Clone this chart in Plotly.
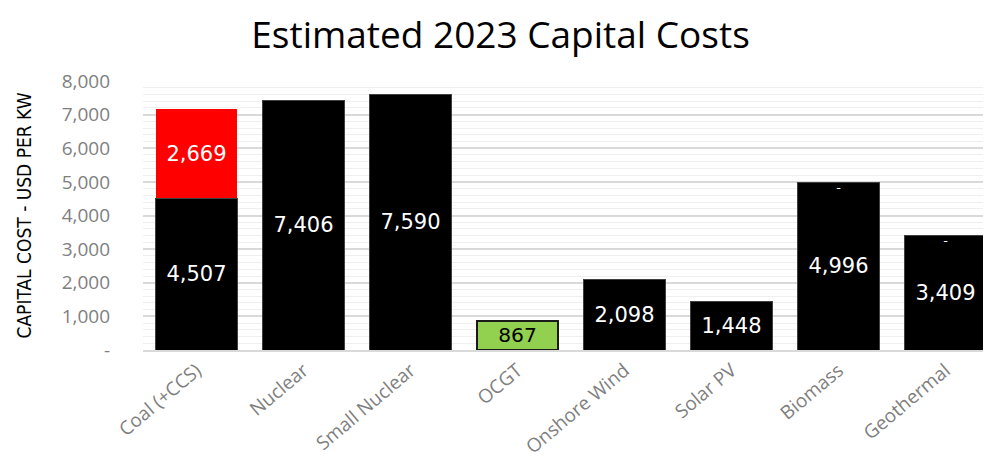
import plotly.graph_objects as go

categories = ["Coal (+CCS)", "Nuclear", "Small Nuclear", "OCGT", "Onshore Wind", "Solar PV", "Biomass", "Geothermal"]
base_costs = [4507, 7406, 7590, 867, 2098, 1448, 4996, 3409]
ccs_addon = [2669, 0, 0, 0, 0, 0, 0, 0]
addon_labels = ["2,669", "", "", "", "", "", "-", "-"]
base_colors = ["#000000", "#000000", "#000000", "#92D050", "#000000", "#000000", "#000000", "#000000"]
base_text_colors = ["white", "white", "white", "black", "white", "white", "white", "white"]
y_ticks = [0, 1000, 2000, 3000, 4000, 5000, 6000, 7000, 8000]
y_tick_labels = ["-", "1,000", "2,000", "3,000", "4,000", "5,000", "6,000", "7,000", "8,000"]

fig = go.Figure()
fig.add_trace(go.Bar(
    x=categories, y=base_costs,
    marker=dict(color=base_colors,
                line=dict(color=["#404040" if c == "#000000" else "#1a1a1a" for c in base_colors],
                          width=[1, 1, 1, 2, 1, 1, 1, 1])),
    text=[f"{v:,}" for v in base_costs], textposition="inside", insidetextanchor="middle",
    textfont=dict(family="DejaVu Sans", size=21, color=base_text_colors),
    textangle=0, cliponaxis=False, showlegend=False,
))
fig.add_trace(go.Bar(
    x=categories, y=ccs_addon,
    marker=dict(color="#FF0000", line=dict(width=0)),
    text=[addon_labels[0]] + [""] * 7, textposition="inside", insidetextanchor="middle",
    textfont=dict(family="DejaVu Sans", size=21, color="white"),
    textangle=0, showlegend=False,
))
# zero-value labels for the add-on series
totals = [b + a for b, a in zip(base_costs, ccs_addon)]
dash_x = [c for c, l in zip(categories, addon_labels) if l == "-"]
dash_y = [t for t, l in zip(totals, addon_labels) if l == "-"]
fig.add_trace(go.Scatter(
    x=dash_x, y=dash_y, mode="text", text=["-"] * len(dash_x),
    textposition="bottom center", textfont=dict(family="DejaVu Sans", size=13, color="white"),
    showlegend=False, hoverinfo="skip",
))

fig.update_layout(
    width=991, height=462,
    margin=dict(l=135, r=0, t=73, b=120),
    paper_bgcolor="white", plot_bgcolor="white",
    barmode="stack", bargap=0.24,
    title=dict(text="Estimated 2023 Capital Costs", x=0.497, xanchor="center", y=0.942, yanchor="middle",
               font=dict(family="Open Sans", size=37, color="#000000")),
)
fig.update_xaxes(
    tickangle=-40, tickfont=dict(family="Open Sans", size=19, color="#7f7f7f"),
    showline=True, linecolor="#d9d9d9", linewidth=2, ticks="", showgrid=False,
)
fig.update_yaxes(
    range=[0, 8000], tickvals=y_ticks, ticktext=y_tick_labels,
    tickfont=dict(family="Open Sans", size=19, color="#7f7f7f"),
    ticklabelstandoff=32,
    showgrid=True, gridcolor="#d9d9d9", gridwidth=1.5,
    minor=dict(dtick=200, showgrid=True, gridcolor="#efefef", gridwidth=1),
    zeroline=False, ticks="", ticklen=0,
    title=dict(text="CAPITAL COST - USD PER KW", font=dict(family="Liberation Sans Narrow, DejaVu Sans Condensed", size=19, color="#000000"), standoff=24),
)

fig.write_html("out.html")
